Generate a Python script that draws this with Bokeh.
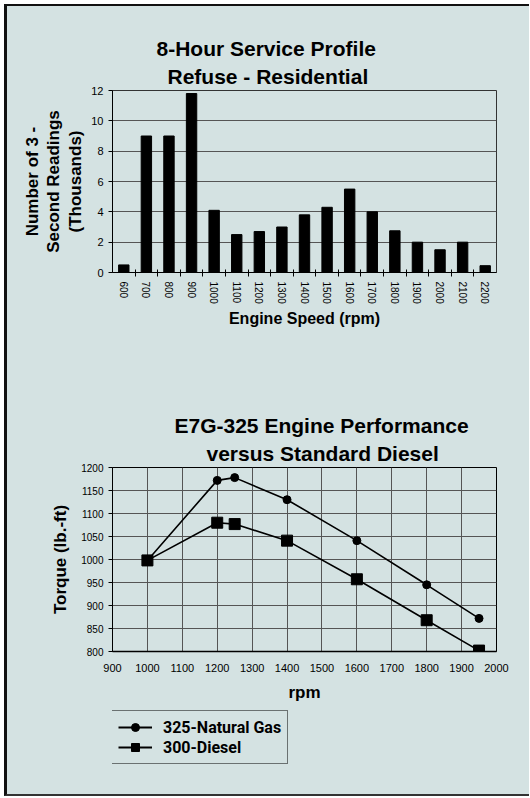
from bokeh.plotting import figure
from bokeh.models import Range1d, FixedTicker, Title, Legend, LegendItem
from bokeh.layouts import column
from bokeh.embed import file_html
from bokeh.resources import INLINE

BG = "#d4e2e2"
FONT = "Liberation Sans"

# ---- data: service profile ----
rpm_bins = [600, 700, 800, 900, 1000, 1100, 1200, 1300, 1400, 1500,
            1600, 1700, 1800, 1900, 2000, 2100, 2200]
readings_k = [0.5, 9.0, 9.0, 11.8, 4.1, 2.5, 2.7, 3.0, 3.8, 4.3,
              5.5, 4.0, 2.75, 2.0, 1.5, 2.0, 0.45]
bin_edges = [650, 750, 850, 950, 1050, 1150, 1250, 1350, 1450, 1550,
             1650, 1750, 1850, 1950, 2050, 2150]
count_ticks = [0, 2, 4, 6, 8, 10, 12]

# ---- data: engine performance ----
perf_rpm = [1000, 1200, 1250, 1400, 1600, 1800, 1950]
gas_torque = [998, 1172, 1178, 1130, 1041, 945, 872]
diesel_torque = [998, 1080, 1077, 1041, 957, 868, 802]
rpm_ticks = [900, 1000, 1100, 1200, 1300, 1400, 1500, 1600, 1700, 1800, 1900, 2000]
torque_ticks = [800, 850, 900, 950, 1000, 1050, 1100, 1150, 1200]
series_names = ["325-Natural Gas", "300-Diesel"]

BORDER_L = 105
BORDER_R = 33


def style_common(p):
    p.background_fill_color = BG
    p.border_fill_color = BG
    for ax in (p.xaxis[0], p.yaxis[0]):
        ax.axis_label_text_font = FONT
        ax.axis_label_text_font_style = "bold"
        ax.axis_label_text_color = "black"
        ax.major_label_text_font = FONT
        ax.major_label_text_color = "black"
        ax.axis_line_color = "black"
        ax.major_tick_line_color = "black"
        ax.minor_tick_line_color = "black"


def title(text, offset, standoff):
    return Title(text=text, align="left", offset=offset, text_font=FONT,
                 text_font_size="21px", text_font_style="bold", text_color="black",
                 standoff=standoff)


# ================= top chart =================
p1 = figure(width=522, height=362, x_range=Range1d(550, 2250), y_range=Range1d(0, 12),
            output_backend="svg", toolbar_location=None, title_location=None,
            min_border_left=BORDER_L, min_border_right=BORDER_R,
            min_border_top=84, min_border_bottom=96)
style_common(p1)
p1.vbar(x=rpm_bins, top=readings_k, width=46, color="black")

p1.xaxis.ticker = FixedTicker(ticks=rpm_bins, minor_ticks=bin_edges)
p1.xaxis.major_label_orientation = "vertical"
p1.xaxis.major_label_text_font_size = "10px"
p1.xaxis.major_tick_out = 0
p1.xaxis.major_tick_in = 0
p1.xaxis.minor_tick_out = 4
p1.xaxis.minor_tick_in = 3
p1.xaxis.axis_label = "Engine Speed (rpm)"
p1.xaxis.axis_label_text_font_size = "16px"
p1.xaxis.axis_label_standoff = 3

p1.yaxis.ticker = FixedTicker(ticks=count_ticks)
p1.yaxis.major_label_text_font_size = "11px"
p1.yaxis.major_tick_out = 4
p1.yaxis.major_tick_in = 0
p1.yaxis.axis_label = "Number of 3 -\nSecond Readings\n(Thousands)"
p1.yaxis.axis_label_text_font_size = "17px"
p1.yaxis.axis_label_text_line_height = 1.15
p1.yaxis.axis_label_standoff = 3

p1.xgrid.visible = False
p1.ygrid.ticker = FixedTicker(ticks=count_ticks)
p1.ygrid.grid_line_color = "#555555"
p1.outline_line_color = "#333333"

p1.add_layout(title("Refuse - Residential", 55, 5), "above")
p1.add_layout(title("8-Hour Service Profile", 44, 1), "above")

# ================= bottom chart =================
p2 = figure(width=522, height=337, x_range=Range1d(900, 2000), y_range=Range1d(800, 1200),
            output_backend="svg", toolbar_location=None, title_location=None,
            min_border_left=BORDER_L, min_border_right=BORDER_R,
            min_border_top=99, min_border_bottom=54)
style_common(p2)

g_line = p2.line(perf_rpm, gas_torque, line_color="black", line_width=1.6)
g_mark = p2.scatter(perf_rpm, gas_torque, marker="circle", size=8, color="black")
d_line = p2.line(perf_rpm, diesel_torque, line_color="black", line_width=1.6)
d_mark = p2.scatter(perf_rpm, diesel_torque, marker="square", size=11, color="black")

p2.xaxis.ticker = FixedTicker(ticks=rpm_ticks)
p2.xaxis.major_label_text_font_size = "11px"
p2.xaxis.major_tick_out = 0
p2.xaxis.major_tick_in = 0
p2.xaxis.major_label_standoff = 12
p2.xaxis.axis_line_width = 1.5
p2.xaxis.axis_label = "rpm"
p2.xaxis.axis_label_text_font_size = "17px"
p2.xaxis.axis_label_standoff = 8

p2.yaxis.ticker = FixedTicker(ticks=torque_ticks)
p2.yaxis.major_label_text_font_size = "10px"
p2.yaxis.major_tick_out = 4
p2.yaxis.major_tick_in = 0
p2.yaxis.axis_label = "Torque (lb.-ft)"
p2.yaxis.axis_label_text_font_size = "17px"
p2.yaxis.axis_label_standoff = 8

p2.xgrid.ticker = FixedTicker(ticks=rpm_ticks)
p2.ygrid.ticker = FixedTicker(ticks=torque_ticks)
p2.xgrid.grid_line_color = "#555555"
p2.ygrid.grid_line_color = "#555555"
p2.outline_line_color = "black"

p2.add_layout(title("versus Standard Diesel", 94, 5), "above")
p2.add_layout(title("E7G-325 Engine Performance", 62, 1), "above")

# ================= legend strip =================
p3 = figure(width=522, height=89, x_range=Range1d(0, 1), y_range=Range1d(0, 1),
            output_backend="svg", toolbar_location=None, title_location=None,
            x_axis_location=None, y_axis_location=None,
            min_border_left=BORDER_L, min_border_right=BORDER_R,
            min_border_top=0, min_border_bottom=0)
p3.background_fill_color = BG
p3.border_fill_color = BG
p3.outline_line_color = None
p3.grid.visible = False
lg_gas_line = p3.line(perf_rpm, gas_torque, line_color="black", line_width=1.8)
lg_gas_mark = p3.scatter(perf_rpm, gas_torque, marker="circle", size=9, color="black")
lg_die_line = p3.line(perf_rpm, diesel_torque, line_color="black", line_width=1.8)
lg_die_mark = p3.scatter(perf_rpm, diesel_torque, marker="square", size=9, color="black")

legend = Legend(items=[LegendItem(label=series_names[0], renderers=[lg_gas_line, lg_gas_mark]),
                       LegendItem(label=series_names[1], renderers=[lg_die_line, lg_die_mark])],
                location=(-1, 30), orientation="vertical",
                label_text_font="Roboto", label_text_font_style="bold",
                label_text_font_size="16px", label_text_color="black",
                glyph_width=34, glyph_height=20, label_height=20, label_standoff=11,
                spacing=0, padding=6, margin=0,
                border_line_color="black", border_line_width=1,
                background_fill_color=BG, background_fill_alpha=1.0)
p3.add_layout(legend, "center")

layout = column(p1, p2, p3, styles={"margin-left": "4px", "margin-top": "4px",
                                    "border-top": "2px solid #111", "border-left": "3px solid #111",
                                    "border-bottom": "2px solid #333", "background": BG})

open("out.html", "w").write(file_html(layout, INLINE))
